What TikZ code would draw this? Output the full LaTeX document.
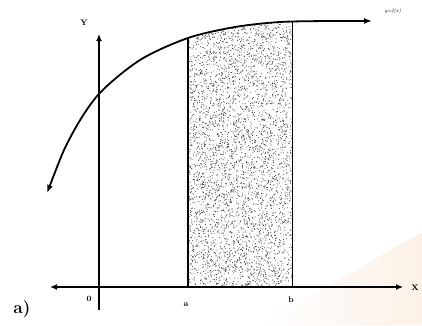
\documentclass[tikz,border=0pt]{standalone}
\usetikzlibrary{arrows.meta}
\definecolor{peach}{RGB}{252,236,222}
\begin{document}
\begin{tikzpicture}[x=1pt,y=-1pt,
  axis/.style={line width=1.2pt,-{Latex[length=7pt,width=6pt]}},
  curveline/.style={line width=1.8pt,{Latex[length=8pt,width=6pt]}-{Latex[length=8pt,width=6pt]}},
  side/.style={line width=1.4pt},
  lbl/.style={font=\footnotesize\bfseries,inner sep=0pt}]
\useasboundingbox (0,0) rectangle (422,325);
\fill[white] (0,0) rectangle (422,325);
% faint watermark band
\shade[left color=white,right color=peach,opacity=0.7] (260,325) -- (422,232) -- (422,325) -- cycle;
\def\fcurve{(47,193) (70,138) (98,95) (140,60) (188,38) (235,27) (280,22) (330,21) (372,21)}
% shaded area
\begin{scope}
  \clip plot[smooth] coordinates {\fcurve} -- (372,287) -- (47,287) -- cycle;
  \clip (188,0) rectangle (292,287);
  \pgfmathsetseed{7}
  \foreach \i in {1,...,4200}{
    \pgfmathsetmacro{\px}{188+104*rnd}
    \pgfmathsetmacro{\py}{18+269*rnd}
    \fill[black!80] (\px,\py) circle (0.5);
  }
\end{scope}
% coordinates
\coordinate (xl) at (50,287);
\coordinate (xr) at (403,287);
\coordinate (yb) at (99,310);
\coordinate (yt) at (99,34);
\coordinate (aT) at (188,38);
\coordinate (aB) at (188,287);
\coordinate (bT) at (292,21);
\coordinate (bB) at (292,287);
% sides of strip
\draw[side] (aT) -- (aB);
\draw[side,line width=1pt] (bT) -- (bB);
% axes
\draw[axis,{Latex[length=7pt,width=6pt]}-{Latex[length=7pt,width=6pt]}] (xl) -- (xr);
\draw[axis] (yb) -- (yt);
% curve
\draw[curveline] plot[smooth] coordinates {\fcurve};
% labels
\node[lbl] (lY) at (84,23) {Y};
\node[lbl] (lX) at (415,288) {X};
\node[lbl,font=\tiny\itshape] (lf) at (393,11) {y=f(x)};
\node[lbl] (l0) at (89,299) {0};
\node[lbl] (la) at (186,305) {a};
\node[lbl] (lb) at (291,300) {b};
\node[font=\LARGE\bfseries,inner sep=0pt] (lab) at (22,309) {a)};
\end{tikzpicture}
\end{document}
